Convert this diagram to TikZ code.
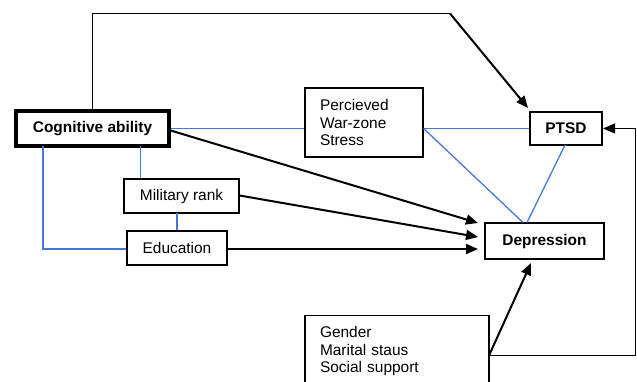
\documentclass[tikz,border=0pt]{standalone}
\usepackage{fontspec}
\setmainfont{Liberation Sans}
\usetikzlibrary{arrows.meta}
\definecolor{linkblue}{RGB}{70,120,220}
\tikzset{
  box/.style={draw, line width=1.3bp, inner sep=0pt, font=\fontsize{15.5}{17.5}\selectfont},
  boldbox/.style={box, font=\fontsize{15.5}{17.5}\selectfont\bfseries},
  bluelink/.style={draw=linkblue, line width=1.3bp},
  thinblack/.style={draw=black, line width=1bp},
  arr/.style={draw=black, line width=2bp, -{Triangle[length=12bp,width=10bp]}},
}
\begin{document}
\begin{tikzpicture}[x=1bp,y=-1bp]
\useasboundingbox (0,0) rectangle (637,381);
\clip (0,0) rectangle (637,381);

\node[boldbox, line width=3.3bp, minimum width=153bp, minimum height=35bp] (cog) at (92.5,128.5) {Cognitive ability};
\node[box, align=left, text width=88bp, inner xsep=15bp, minimum height=69bp] (pws) at (364,122.5) {Percieved\\War-zone\\Stress};
\node[boldbox, line width=2bp, minimum width=72bp, minimum height=33bp] (ptsd) at (566,128.5) {PTSD};
\node[boldbox, line width=2.8bp, minimum width=119bp, minimum height=36bp] (dep) at (544.5,241) {Depression};
\node[box, minimum width=115bp, minimum height=34bp] (mil) at (181.5,196) {Military rank};
\node[box, minimum width=100bp, minimum height=34bp] (edu) at (177,248) {Education};
\node[box, align=left, text width=154bp, inner xsep=15bp, inner ysep=11bp] (gms) at (397,351) {Gender\\Marital staus\\Social support};

% coordinates
\coordinate (topL) at (92.5,13.5);
\coordinate (topR) at (450,13.5);
\coordinate (ptsdTip) at (528,108);
\coordinate (gmsR) at (489,355.5);
\coordinate (rightB) at (635.5,355.5);
\coordinate (rightT) at (635.5,128.5);
\coordinate (cogL) at (43,146);
\coordinate (cogC) at (43,249);
\coordinate (cogM) at (140.5,146);
\coordinate (milM) at (177,213);

% top path to PTSD
\draw[thinblack] (cog.north -| topL) -- (topL) -- (topR);
\draw[arr] (topR) -- (ptsdTip);

% blue links
\draw[bluelink] (cog.east |- rightT) -- (pws.west |- rightT);
\draw[bluelink] (pws.east |- rightT) -- (ptsd.west |- rightT);
\draw[bluelink] (pws.east |- rightT) -- (523,222.5);
\draw[bluelink] (565,145) -- (527,222.5);
\draw[bluelink] (cogL) -- (cogC) -- (edu.west |- cogC);
\draw[bluelink] (cogM) -- (mil.north -| cogM);
\draw[bluelink] (milM) -- (edu.north -| milM);

% black arrows to Depression
\draw[arr] (169,130) -- (478,223);
\draw[arr] (mil.east |- 0,195.5) -- (478,237);
\draw[arr] (edu.east |- 0,249) -- (478,249);
\draw[arr] (gmsR) -- (531,263);

% right loop to PTSD
\draw[thinblack] (gmsR) -- (rightB) -- (rightT);
\draw[thinblack, -{Triangle[length=12bp,width=10bp]}] (rightT) -- (ptsd.east |- rightT);
\end{tikzpicture}
\end{document}
